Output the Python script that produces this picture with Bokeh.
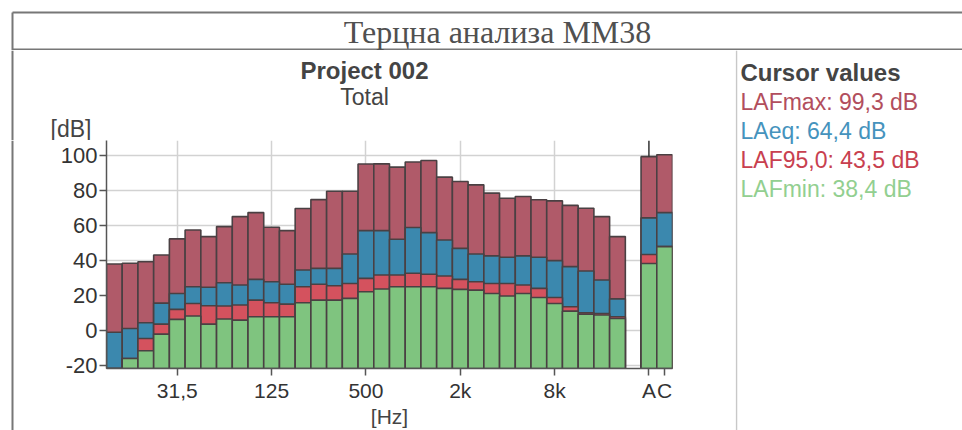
from bokeh.plotting import figure
from bokeh.layouts import column, row
from bokeh.models import Range1d, FixedTicker
from bokeh.core.properties import value
from bokeh.embed import file_html
from bokeh.resources import INLINE

# ---------------- data ----------------
bands = ["12,5", "16", "20", "25", "31,5", "40", "50", "63", "80", "100",
         "125", "160", "200", "250", "315", "400", "500", "630", "800", "1k",
         "1,25k", "1,6k", "2k", "2,5k", "3,15k", "4k", "5k", "6,3k", "8k", "10k",
         "12,5k", "16k", "20k"]
totals = ["A", "C"]

laf_max = [38.1, 38.5, 39.4, 43.2, 52.4, 57.5, 53.7, 59.4, 65.1, 67.4,
           59.0, 57.1, 69.7, 74.8, 79.6, 79.6, 95.1, 95.2, 93.3, 96.2,
           97.1, 87.6, 85.1, 83.2, 78.5, 75.6, 76.6, 74.7, 74.1, 71.5,
           69.9, 65.1, 53.7]
laeq = [-0.8, 1.3, 4.6, 15.8, 21.3, 25.1, 24.8, 27.4, 26.1, 29.3,
        28.0, 26.5, 34.7, 35.6, 35.6, 43.8, 57.1, 57.1, 52.2, 58.9,
        56.0, 51.8, 47.0, 43.8, 42.7, 41.9, 42.7, 41.9, 40.0, 36.6,
        34.1, 29.0, 18.2]
laf95 = [-22.0, -15.8, -4.4, 3.8, 12.2, 15.6, 14.3, 14.1, 14.7, 17.5,
         16.0, 15.2, 25.1, 26.5, 25.7, 27.0, 29.9, 31.8, 31.8, 32.8,
         32.2, 31.2, 29.3, 28.0, 27.0, 27.0, 26.1, 24.2, 19.0, 13.7,
         10.3, 9.9, 8.0]
laf_min = [-22.0, -15.8, -11.4, -1.9, 6.5, 8.4, 3.8, 6.7, 6.1, 8.0,
           8.0, 8.0, 16.0, 17.5, 17.5, 18.5, 22.3, 23.8, 25.1, 25.1,
           25.1, 24.2, 23.6, 23.2, 21.3, 19.8, 21.3, 19.0, 15.6, 11.2,
           9.5, 9.0, 7.0]
tot_max = [99.3, 100.4]
tot_eq = [64.4, 67.4]
tot_95 = [43.5, 48.0]
tot_min = [38.4, 48.0]

tick_bands = ["31,5", "125", "500", "2k", "8k"]
y_ticks = [-20, 0, 20, 40, 60, 80, 100]
y_tick_labels = ["-20", "0", "20", "40", "60", "80", "100"]

series_names = ["LAFmax", "LAeq", "LAF95,0", "LAFmin"]
cursor_values = ["99,3", "64,4", "43,5", "38,4"]

title_text = "Терцна анализа MM38"
project_text = "Project 002"
sub_text = "Total"
legend_title = "Cursor values"
y_label = "[dB]"
x_label = "[Hz]"

# ---------------- styling ----------------
bar_colors = ["#b05a69", "#3b88ae", "#d4525e", "#7fc47f"]
legend_colors = ["#b24e5d", "#4593bd", "#c8404f", "#92cf90"]
outline = "#4a4043"
FONT = "Liberation Sans"
TXT = "#444444"
BOX = "#777777"

PW, PH = 962, 430          # page size
HEAD = 50                  # header (title) height
LSTRIP = 20                # left strip width
SPLIT = 735                # x of the legend divider
FL, FR, FT, FB = 106, 672, 140, 368   # plot frame on the page


def canvas(x0, x1, y0, y1):
    f = figure(width=x1 - x0, height=y1 - y0, x_range=Range1d(x0, x1),
               y_range=Range1d(y1, y0), output_backend="svg", toolbar_location=None,
               x_axis_type=None, y_axis_type=None, min_border=0, title=None)
    f.outline_line_color = None
    f.background_fill_color = "white"
    f.border_fill_color = "white"
    return f


def put_text(f, x, y, txt, size, color, bold=False, align="left", font=FONT):
    f.text(x=[x], y=[y], text=[txt], text_font=value(font), text_font_size=size,
           text_color=color, text_align=align, text_baseline="middle",
           text_font_style="bold" if bold else "normal")


# ---- header: report title ----
head = canvas(0, PW, 0, HEAD)
head.segment(x0=[12, 12], y0=[12, 49], x1=[PW, PW], y1=[12, 49], line_color=BOX, line_width=2)
head.segment(x0=[12], y0=[12], x1=[12], y1=[HEAD], line_color=BOX, line_width=2)
put_text(head, 497, 31, title_text, "32px", "#505050", align="center", font="Liberation Serif")

# ---- chart titles ----
tops = canvas(0, SPLIT, HEAD, FT)
tops.segment(x0=[12], y0=[HEAD], x1=[12], y1=[FT], line_color=BOX, line_width=2)
put_text(tops, 364, 70, project_text, "24px", TXT, bold=True, align="center")
put_text(tops, 364, 96, sub_text, "23px", TXT, align="center")
put_text(tops, 50, 128, y_label, "23px", TXT)

# ---- left strip ----
strip = canvas(0, LSTRIP, FT, PH)
strip.segment(x0=[12], y0=[FT], x1=[12], y1=[PH], line_color=BOX, line_width=2)

# ---- legend ----
leg = canvas(SPLIT, PW, HEAD, PH)
leg.segment(x0=[SPLIT + 1], y0=[HEAD], x1=[SPLIT + 1], y1=[PH], line_color="#c8c8c8", line_width=1.5)
put_text(leg, 740, 72, legend_title, "24px", TXT, bold=True)
for i, (n, v, c) in enumerate(zip(series_names, cursor_values, legend_colors)):
    put_text(leg, 740, 101 + 29 * i, f"{n}: {v} dB", "23px", c)

# ---- main chart ----
X0, X1 = -0.5, 35.5
Y0, Y1 = -21.5, 108.5
p = figure(width=SPLIT - LSTRIP, height=PH - FT, x_range=Range1d(X0, X1), y_range=Range1d(Y0, Y1),
           output_backend="svg", toolbar_location=None, title=None,
           min_border_left=FL - LSTRIP, min_border_right=SPLIT - FR,
           min_border_top=0, min_border_bottom=PH - FB)
p.outline_line_color = None
p.background_fill_color = "white"
p.border_fill_color = "white"

xs = list(range(len(bands))) + [len(bands) + 1 + i for i in range(len(totals))]
all_series = [laf_max + tot_max, laeq + tot_eq, laf95 + tot_95, laf_min + tot_min]
for vals, col in zip(all_series, bar_colors):
    p.vbar(x=xs, width=1.0, bottom=Y0, top=vals, fill_color=col,
           line_color=outline, line_width=1.6)

# cursor line at the A bar
a_x = xs[len(bands)]
p.segment(x0=[a_x], y0=[tot_max[0]], x1=[a_x], y1=[Y1], line_color="#333333", line_width=1.5)

tick_pos = [bands.index(b) for b in tick_bands] + xs[len(bands):]
tick_lab = tick_bands + totals
p.xaxis.ticker = FixedTicker(ticks=tick_pos)
p.xaxis.major_label_overrides = {t: l for t, l in zip(tick_pos, tick_lab)}
p.yaxis.ticker = FixedTicker(ticks=y_ticks)
p.yaxis.major_label_overrides = {t: l for t, l in zip(y_ticks, y_tick_labels)}
p.xgrid.ticker = FixedTicker(ticks=[bands.index(b) for b in tick_bands])

for ax in (p.xaxis, p.yaxis):
    ax.axis_line_color = "#555555"
    ax.axis_line_width = 1.5
    ax.major_tick_line_color = "#555555"
    ax.major_tick_line_width = 1.5
    ax.major_tick_out = 7
    ax.major_tick_in = 0
    ax.minor_tick_line_color = None
    ax.major_label_text_font = FONT
    ax.major_label_text_font_size = "22px"
    ax.major_label_text_color = "#333333"
p.xaxis.major_label_text_font_size = "21px"
p.xaxis.major_label_standoff = 3
p.yaxis.major_label_standoff = 2
p.xaxis.axis_label = x_label
p.xaxis.axis_label_text_font = FONT
p.xaxis.axis_label_text_font_size = "21px"
p.xaxis.axis_label_text_font_style = "normal"
p.xaxis.axis_label_text_color = TXT
p.xaxis.axis_label_standoff = 0

for g in (p.xgrid, p.ygrid):
    g.grid_line_color = "#d2d2d2"
    g.grid_line_width = 1.5

layout = column(head, row(column(tops, row(strip, column(p))), leg))
open("out.html", "w").write(file_html(layout, INLINE))
